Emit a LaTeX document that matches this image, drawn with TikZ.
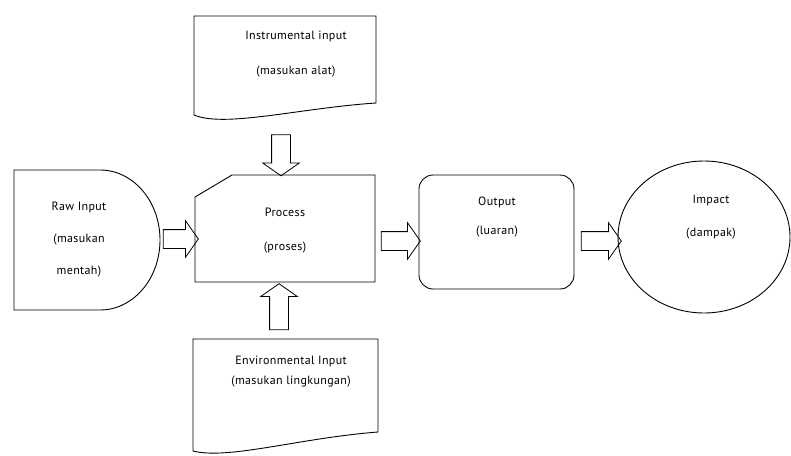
\documentclass[tikz,border=0pt]{standalone}
\usepackage{fontspec}
\setmainfont[LetterSpace=3]{PT Sans}
\usetikzlibrary{shapes.arrows,calc}

\tikzset{
	txt/.style={align=center,font=\fontsize{12}{14}\selectfont},
	bigarrow/.style={single arrow,draw,thick,inner xsep=0pt,inner ysep=9pt,
		single arrow head extend=9pt,single arrow tip angle=110},
}

\begin{document}
\begin{tikzpicture}[x=1pt,y=-1pt,line width=0.9pt]
	\useasboundingbox (0,0) rectangle (791,455);
	\node[txt] (raw) at (79,240) {Raw Input\\[18pt](masukan\\[18pt]mentah)};
	\node[txt] (instr) at (296,54) {Instrumental input\\[21pt](masukan alat)};
	\node[txt] (proc) at (285,231) {Process\\[20pt](proses)};
	\node[txt] (env) at (291,372) {Environmental Input\\[6pt](masukan lingkungan)};
	\node[txt] (out) at (497,217) {Output\\[15pt](luaran)};
	\node[txt] (imp) at (711,217) {Impact\\[19pt](dampak)};
	\draw (14,170) -- (100,170) .. controls (133,170) and (160,201) .. (160,240)
		.. controls (160,279) and (133,310) .. (100,310) -- (14,310) -- cycle;
	\draw (194,16) -- (376,16) -- (376,103) .. controls (300,108) and (225,128) .. (194,115) -- cycle;
	\draw (195,197) -- (232,175) -- (375,175) -- (375,282) -- (195,282) -- cycle;
	\draw (193,339) -- (378,339) -- (378,432) .. controls (300,438) and (228,460) .. (193,451) -- cycle;
	\draw[rounded corners=14pt] (419,175) rectangle (574,289);
	\draw (704,237) ellipse [x radius=86,y radius=76];
	\node[bigarrow,minimum height=35pt] (a1) at (177.5,239) {};
	\node[bigarrow,minimum height=41pt,rotate=-90] (a2) at (281,152) {};
	\node[bigarrow,minimum height=46pt,rotate=90] (a3) at (279,310) {};
	\node[bigarrow,minimum height=39pt] (a4) at (397.5,241) {};
	\node[bigarrow,minimum height=40pt] (a5) at (598,241) {};
\end{tikzpicture}
\end{document}
